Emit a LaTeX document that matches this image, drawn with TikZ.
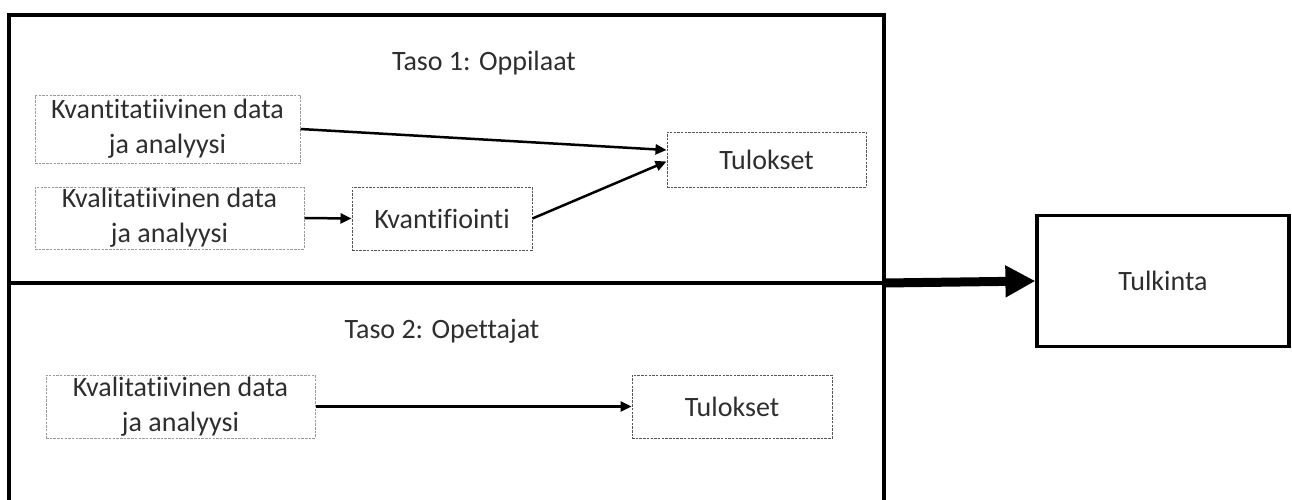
\documentclass[tikz,border=0pt]{standalone}
\usepackage{fontspec}
\setmainfont{Carlito}[Ligatures=NoCommon]
\usetikzlibrary{arrows.meta,calc}
\definecolor{txt}{HTML}{2E2E2E}
\definecolor{lightb}{HTML}{9A9A9A}
\definecolor{darkb}{HTML}{555555}
\begin{document}
\begin{tikzpicture}[x=1pt,y=-1pt,
  lbl/.style={font=\fontsize{28}{35}\selectfont, text=txt},
  dbox/.style={draw=lightb, dash pattern=on 2.5pt off 1.2pt, line width=1pt, align=center, inner sep=0pt, lbl},
  dboxd/.style={dbox, draw=darkb},
  conn/.style={line width=2.5pt, -{Triangle[length=11pt,width=10pt]}},
  frameline/.style={line width=3.5pt}]
\useasboundingbox (0,0) rectangle (1292,499);
% frame
\draw[frameline] (9,505) -- (9,15) -- (884,15) -- (884,505);
\coordinate (ml) at (9,283);
\coordinate (mr) at (884,283);
\draw[frameline] (ml) -- (mr);
% titles
\node[lbl, anchor=base] (t1) at (484,70) {Taso 1: Oppilaat};
\node[lbl, anchor=base] (t2) at (442,338) {Taso 2: Opettajat};
% level 1 boxes
\node[dbox, minimum width=265pt, minimum height=68pt] (A) at (167.5,129) {Kvantitatiivinen data\\ja analyysi};
\node[dbox, minimum width=269pt, minimum height=62pt] (B) at (169.5,218) {Kvalitatiivinen data\\ja analyysi};
\node[dboxd, minimum width=180pt, minimum height=63pt] (C) at (442,218.5) {Kvantifiointi};
\node[dboxd, minimum width=199pt, minimum height=55pt] (D) at (766.5,159.5) {Tulokset};
% level 2 boxes
\node[dbox, minimum width=269pt, minimum height=63pt] (E) at (180.5,406.5) {Kvalitatiivinen data\\ja analyysi};
\node[dboxd, minimum width=200pt, minimum height=63pt] (F) at (732,406.5) {Tulokset};
% Tulkinta
\node[lbl, draw=black, line width=3.2pt, minimum width=252pt, minimum height=131pt, inner sep=0pt] (G) at (1163,281) {Tulkinta};
% connectors
\draw[conn] (A.east) -- ([yshift=9.5pt]D.west);
\draw[conn] (C.east) -- ([yshift=-2pt]D.west);
\draw[conn] (B.east) -- (C.west);
\draw[conn] (E.east) -- (F.west);
\draw[line width=9pt, -{Triangle[length=30pt,width=30pt]}] (mr) -- (G.west);
\end{tikzpicture}
\end{document}
